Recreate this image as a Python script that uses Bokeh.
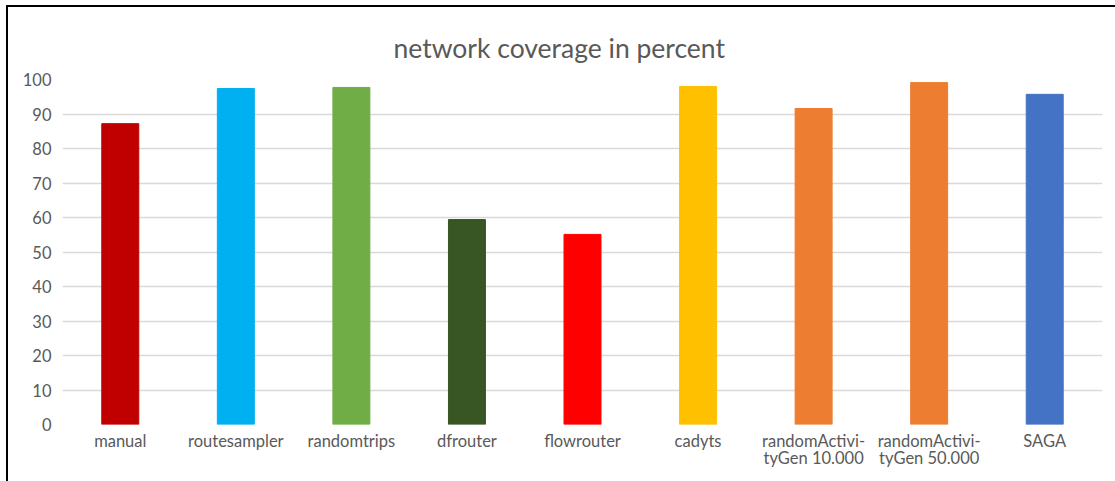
from bokeh.plotting import figure
from bokeh.models import Range1d, ColumnDataSource
from bokeh.embed import file_html
from bokeh.resources import INLINE

categories = ["manual", "routesampler", "randomtrips", "dfrouter", "flowrouter",
              "cadyts", "randomActivi-\ntyGen 10.000", "randomActivi-\ntyGen 50.000", "SAGA"]
coverage = [87.2, 97.4, 97.7, 59.4, 55.1, 98.0, 91.6, 99.1, 95.7]
colors = ["#C00000", "#00B0F0", "#70AD47", "#375623", "#FF0000",
          "#FFC000", "#ED7D31", "#ED7D31", "#4472C4"]
y_ticks = [0, 10, 20, 30, 40, 50, 60, 70, 80, 90, 100]

FONT = "Lato"
GREY = "#595959"

src = ColumnDataSource(dict(cat=categories, val=coverage, col=colors))

p = figure(x_range=categories, y_range=Range1d(0, 100),
           width=1115, height=481, frame_width=1040, frame_height=345,
           min_border_left=62, min_border_right=13, min_border_top=79, min_border_bottom=57,
           output_backend="svg", toolbar_location=None,
           title="network coverage in percent")
p.styles = {"background-color": "white",
            "box-shadow": "inset 6px 5px 0 0 white, inset 8px 7px 0 0 black"}

p.vbar(x="cat", top="val", width=0.32, color="col", source=src)

p.title.align = "left"
p.title.text_font = FONT
p.title.text_font_size = "26.5px"
p.title.text_font_style = "normal"
p.title.text_color = GREY
p.title.offset = 331
p.title.standoff = 32

p.x_range.range_padding = 0
p.outline_line_color = None
p.background_fill_color = "white"
p.border_fill_color = None

p.xgrid.grid_line_color = None
p.ygrid.grid_line_color = "#D9D9D9"
p.ygrid.grid_line_width = 1.3
p.yaxis.ticker = y_ticks

for ax in (p.xaxis, p.yaxis):
    ax.axis_line_color = None
    ax.major_tick_line_color = None
    ax.minor_tick_line_color = None
    ax.major_label_text_font = FONT
    ax.major_label_text_font_size = "16.5px"
    ax.major_label_text_color = GREY
p.yaxis.major_label_standoff = 5
p.xaxis.major_label_standoff = 0
p.xaxis.major_label_text_line_height = 0.85

open("out.html", "w").write(file_html(p, INLINE))
